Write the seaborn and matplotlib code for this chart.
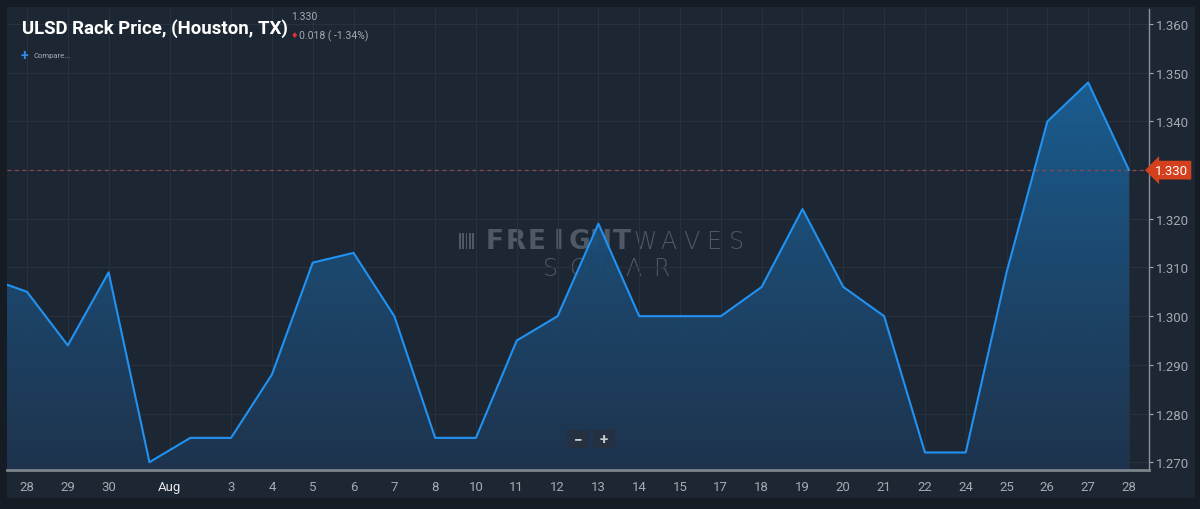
import numpy as np
import pandas as pd
import matplotlib
import matplotlib.pyplot as plt
from matplotlib.colors import LinearSegmentedColormap
from matplotlib.patches import Rectangle
import seaborn as sns

matplotlib.use('Agg')

# trading days shown on the chart (first one is only partly visible at the left edge)
days = ['Jul 27', 'Jul 28', 'Jul 29', 'Jul 30', 'Jul 31', 'Aug 1', 'Aug 3', 'Aug 4', 'Aug 5',
        'Aug 6', 'Aug 7', 'Aug 8', 'Aug 10', 'Aug 11', 'Aug 12', 'Aug 13', 'Aug 14', 'Aug 15',
        'Aug 17', 'Aug 18', 'Aug 19', 'Aug 20', 'Aug 21', 'Aug 22', 'Aug 24', 'Aug 25',
        'Aug 26', 'Aug 27', 'Aug 28']
prices = [1.308, 1.305, 1.294, 1.309, 1.270, 1.275, 1.275, 1.288, 1.311,
          1.313, 1.300, 1.275, 1.275, 1.295, 1.300, 1.319, 1.300, 1.300,
          1.300, 1.306, 1.322, 1.306, 1.300, 1.272, 1.272, 1.309,
          1.340, 1.348, 1.330]
# days without their own tick label
unlabeled = ['Jul 27', 'Jul 31', 'Aug 1']
month_label = 'Aug'
y_ticks = [1.270, 1.280, 1.290, 1.300, 1.310, 1.320, 1.330, 1.340, 1.350, 1.360]

title = 'ULSD Rack Price, (Houston, TX)'
last_value = '1.330'
change_text = '0.018 ( -1.34%)'

df = pd.DataFrame({'day': days, 'price': prices})
df['x'] = np.arange(len(df)) - 1

BG = '#1d2733'
OUTER = '#161c24'
GRID = '#27323e'
LINE = '#2192f2'
TXT = '#a3aab2'

sns.set_style('dark')
plt.rcParams['font.family'] = ['Roboto', 'DejaVu Sans']

fig = plt.figure(figsize=(12, 5.1), dpi=100)
fig.patch.set_facecolor(OUTER)
W, H = 1200, 510
fig.patches.append(Rectangle((7 / W, 1 - 499 / H), 1188 / W, 491 / H,
                             transform=fig.transFigure, facecolor=BG, edgecolor='none', zorder=0))

ax = fig.add_axes([7 / W, 1 - 471 / H, 1142 / W, 461 / H])
ax.set_facecolor('none')
ax.set_zorder(1)

ylo, yhi = 1.2684, 1.3631
xlo, xhi = -0.49, 27.49

# gradient fill under the line
poly = ax.fill_between(df['x'], df['price'], ylo, color='none', lw=0)
cmap = LinearSegmentedColormap.from_list('fill', ['#1e3550', '#1c4a72', '#1a6299'])
grad = np.linspace(0, 1, 256).reshape(-1, 1)
im = ax.imshow(grad, extent=[df['x'].iloc[0], df['x'].iloc[-1], ylo, max(prices)],
               origin='lower', cmap=cmap, aspect='auto', zorder=1, interpolation='bilinear',
               alpha=0.92)
im.set_clip_path(poly.get_paths()[0], ax.transData)

sns.lineplot(data=df, x='x', y='price', color=LINE, lw=1.5, ax=ax, zorder=4)

ax.axhline(float(last_value), color='#8a4a4a', lw=0.9, ls=(0, (3, 3)), zorder=3)

# ticks
tick_pos, tick_lab = [], []
for i, d in enumerate(days):
    if d not in unlabeled:
        tick_pos.append(df['x'].iloc[i])
        tick_lab.append(d.split()[1])
    if d == 'Jul 31':
        tick_pos.append(df['x'].iloc[i] + 0.5)
        tick_lab.append(month_label)

ax.set_xlim(xlo, xhi)
ax.set_ylim(ylo, yhi)
ax.set_xticks(tick_pos)
ax.set_xticklabels(tick_lab)
ax.set_yticks(y_ticks)
# the tag below takes the place of the label at the last value
ax.set_yticklabels(['' if f'{v:.3f}' == last_value else f'{v:.3f}' for v in y_ticks])
ax.yaxis.tick_right()
ax.tick_params(axis='x', colors=TXT, labelsize=9.5, length=3, width=0.8, pad=4)
ax.tick_params(axis='y', colors=TXT, labelsize=9.5, length=3, width=0.8, pad=2)
for lab in ax.get_xticklabels():
    if lab.get_text() == month_label:
        lab.set_color('#e6e8ea')
ax.grid(True, color=GRID, lw=0.8, zorder=0)
ax.set_axisbelow(True)
ax.set_xlabel('')
ax.set_ylabel('')
for s in ['top', 'left']:
    ax.spines[s].set_visible(False)
ax.spines['bottom'].set_color('#7b838b')
ax.spines['bottom'].set_linewidth(2)
ax.spines['right'].set_color('#8a9299')
ax.spines['right'].set_linewidth(1)

# last value tag
ax.annotate(last_value, xy=(1.0, float(last_value)), xycoords=('axes fraction', 'data'),
            xytext=(4.5, 0), textcoords='offset points', ha='left', va='center',
            color='white', fontsize=9.5, annotation_clip=False, zorder=6,
            bbox=dict(boxstyle='larrow,pad=0.22', fc='#d2401e', ec='none'))

# header
fig.text(22 / W, 1 - 29 / H, title, color='white', fontsize=13.4, fontweight='bold', va='center')
fig.text(291 / W, 1 - 17 / H, last_value, color=TXT, fontsize=7.5, va='center')
fig.text(291 / W, 1 - 36 / H, '\u2666', color='#e23333', fontsize=6, va='center',
         family=['DejaVu Sans'])
fig.text(299 / W, 1 - 36 / H, change_text, color=TXT, fontsize=7.5, va='center')
fig.text(21 / W, 1 - 56 / H, '+', color='#2f8ff0', fontsize=10, fontweight='bold', va='center')
fig.text(34 / W, 1 - 56 / H, 'Compare...', color=TXT, fontsize=5.5, va='center')

# watermark, letter by letter to get its wide spacing
wm = '#4f5965'


def spaced(word, x0, x1, yc, weight, size):
    pitch = (x1 - x0) / len(word)
    for k, ch in enumerate(word):
        fig.text((x0 + pitch * (k + 0.5)) / W, 1 - yc / H, ch, color=wm, fontsize=size,
                 fontweight=weight, family=['DejaVu Sans'], ha='center', va='center',
                 zorder=0.5)


spaced('FREIGHT', 484, 632, 242, 'heavy', 19)
spaced('WAVES', 634, 748, 242, 'light', 17)
spaced('SON\u039bR', 537, 675, 269, 'light', 17)
for k in range(6):
    fig.patches.append(Rectangle(((459 + 3.3 * k) / W, 1 - 250 / H), 1.6 / W, 16 / H,
                                 transform=fig.transFigure, facecolor=wm, edgecolor='none',
                                 zorder=0.5))

# zoom buttons
for cx, sym in [(578, '\u2212'), (604, '+')]:
    fig.patches.append(Rectangle(((cx - 11) / W, 1 - 449 / H), 22 / W, 18 / H,
                                 transform=fig.transFigure, facecolor='#253140',
                                 edgecolor='none', zorder=5))
    fig.text(cx / W, 1 - 440 / H, sym, color='#c8ccd0', fontsize=11, fontweight='bold',
             ha='center', va='center', zorder=6)

plt.savefig('out.png', dpi=100, facecolor=fig.get_facecolor())
plt.close()
